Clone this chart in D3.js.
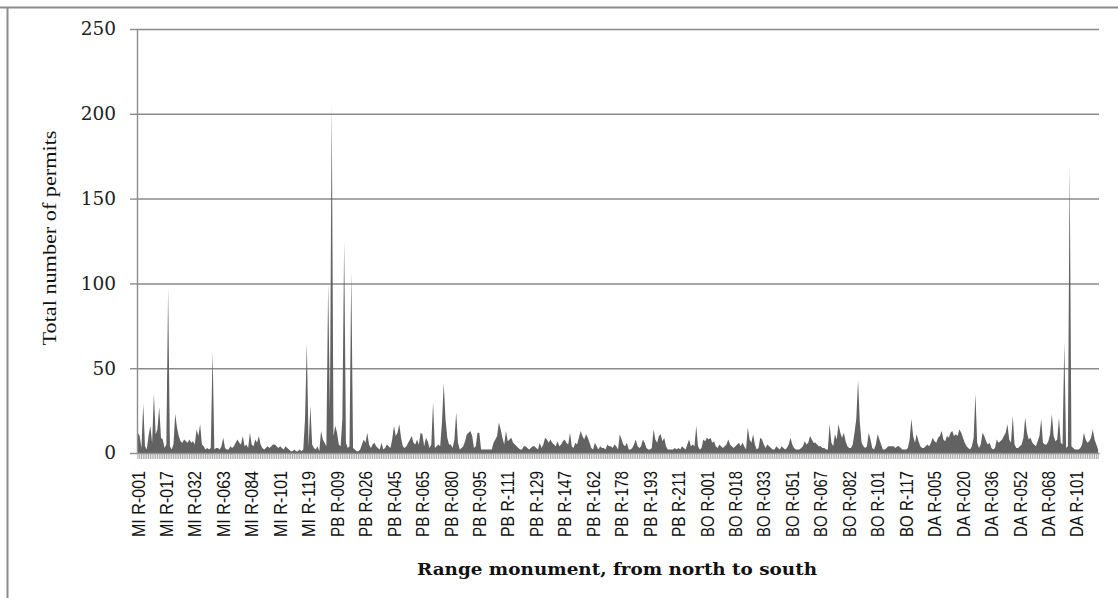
<!DOCTYPE html>
<html>
<head>
<meta charset="utf-8">
<script src="https://cdn.jsdelivr.net/npm/d3@7"></script>
<style>
  html, body { margin: 0; padding: 0; background: #fff; }
  svg { display: block; }
</style>
</head>
<body>
<script>
// Total permits per range monument, listed north to south, one value per monument.
const miPermits = [
  12,10,3,29,4,2,10,16,6,35,
  11,14,27,9,8,3,5,97,4,2,
  5,23,15,10,7,6,8,7,6,8,
  6,7,5,14,10,17,5,4,2,3,
  2,3,60,2,3,3,2,4,9,3,
  2,2,4,3,4,6,8,6,5,10,
  4,5,3,12,5,4,8,6,10,5,
  3,2,3,4,3,4,5,5,4,3,
  4,3,2,4,3,2,1,1,2,1,
  1,2,1,2,20,65,4,28,5,3,
  2,4,1,13
];
const pbPermits = [
  8,6,4,100,25,205,
  10,16,12,5,4,20,125,6,3,4,
  107,3,2,1,1,2,5,8,6,12,
  5,3,5,6,4,3,2,6,2,3,
  5,4,3,8,16,10,12,17,9,4,
  3,4,6,8,10,6,5,8,5,12,
  11,4,9,7,3,5,30,3,4,5,
  4,18,41,20,9,5,5,3,8,24,
  6,2,3,4,7,11,12,13,10,3,
  4,12,12,2,2,2,2,2,2,2,
  6,8,10,18,14,9,5,13,7,8,
  9,6,5,4,3,2,2,4,4,3,
  2,3,4,4,3,2,6,3,5,9,
  8,6,8,6,5,4,7,4,5,7,
  8,6,5,12,4,3,6,5,9,13,
  10,8,11,9,6,3,2,6,4,2,
  4,3,3,2,5,4,4,3,5,4,
  2,11,8,5,4,6,2,2,3,5,
  8,4,3,4,8,6,3,2,2,3,
  14,8,6,10,11,7,9,4,2,2,
  2,2,3,2,3,2,4,3,2,5,
  8,4,5,4,16,4,2,3,8,7
];
const boPermits = [
  9,8,9,6,7,4,3,5,4,3,
  4,5,8,5,4,3,4,5,6,4,
  6,4,2,15,8,6,11,5,2,3,
  9,8,5,3,5,4,3,2,2,4,
  3,2,4,3,2,3,5,9,5,3,
  2,2,2,3,4,7,5,6,10,8,
  6,6,5,4,4,3,3,2,2,17,
  6,4,11,8,17,12,9,12,7,4,
  3,3,5,12,20,43,18,6,4,3,
  4,12,8,3,2,5,11,8,5,2,
  2,3,4,4,4,4,3,4,4,3,
  2,2,2,3,8,20,10,6,11,7,
  4,3,3,4
];
const daPermits = [
  5,4,6,9,7,6,
  9,10,13,8,7,10,9,12,13,10,
  11,10,14,12,9,6,4,3,2,4,
  9,35,6,3,5,12,10,7,5,6,
  3,2,3,8,6,7,8,10,12,17,
  8,6,22,5,3,3,4,5,9,21,
  12,8,9,6,5,4,7,10,20,6,
  5,5,7,11,23,10,7,8,21,6,
  5,65,3,4,170,4,3,2,2,2,
  3,5,12,8,6,7,9,14,8,5,2
];

// Every 16th monument carries a label on the category axis.
const tickLabels = [
  "MI R-001","MI R-017","MI R-032","MI R-063","MI R-084","MI R-101","MI R-119",
  "PB R-009","PB R-026","PB R-045","PB R-065","PB R-080","PB R-095","PB R-111",
  "PB R-129","PB R-147","PB R-162","PB R-178","PB R-193","PB R-211",
  "BO R-001","BO R-018","BO R-033","BO R-051","BO R-067","BO R-082","BO R-101","BO R-117",
  "DA R-005","DA R-020","DA R-036","DA R-052","DA R-068","DA R-101"
];
const labelEvery = 16;
const yTicks = [0, 50, 100, 150, 200, 250];

const permits = [].concat(miPermits, pbPermits, boPermits, daPermits);

const W = 1118, H = 598;
const plot = { left: 137, right: 1099, top: 29, bottom: 453 };

const svg = d3.select("body").append("svg")
  .attr("width", W).attr("height", H);

svg.append("rect").attr("width", W).attr("height", H).attr("fill", "#fff");

// outer frame (top and left edges)
svg.append("line").attr("x1", 0).attr("x2", W).attr("y1", 7.5).attr("y2", 7.5)
  .attr("stroke", "#8c8c8c").attr("stroke-width", 2);
svg.append("line").attr("x1", 7.5).attr("x2", 7.5).attr("y1", 7).attr("y2", H)
  .attr("stroke", "#8c8c8c").attr("stroke-width", 2);

const x = d3.scaleBand()
  .domain(d3.range(permits.length))
  .range([plot.left, plot.right]);
const y = d3.scaleLinear().domain([0, 250]).range([plot.bottom, plot.top]);
const cx = i => x(i) + x.bandwidth() / 2;

// horizontal gridlines
const grid = svg.append("g")
  .attr("transform", `translate(${plot.left},0)`)
  .call(d3.axisLeft(y).tickValues(yTicks.slice(1))
    .tickSize(-(plot.right - plot.left)).tickFormat(""));
grid.select(".domain").remove();
grid.selectAll(".tick line").attr("stroke", "#8a8a8a").attr("stroke-width", 1.5);

// area of permits
svg.append("path")
  .datum(permits)
  .attr("fill", "#626262")
  .attr("d", d3.area()
    .x((d, i) => cx(i))
    .y0(y(0))
    .y1(d => y(d)));

// value axis
const yAxis = svg.append("g")
  .attr("transform", `translate(${plot.left},0)`)
  .call(d3.axisLeft(y).tickValues(yTicks).tickSize(7).tickPadding(14).tickSizeOuter(0));
yAxis.select(".domain").attr("stroke", "#8c8c8c").attr("stroke-width", 1.4);
yAxis.selectAll(".tick line").attr("stroke", "#8c8c8c").attr("stroke-width", 1.4);
yAxis.selectAll(".tick text")
  .attr("font-family", "'DejaVu Serif', serif")
  .attr("font-size", 18.5)
  .attr("fill", "#222");

// category axis: one tick per monument, labels every 16th
const xAxis = svg.append("g")
  .attr("transform", `translate(0,${plot.bottom})`)
  .call(d3.axisBottom(x)
    .tickValues(d3.range(permits.length))
    .tickSize(6)
    .tickSizeOuter(0)
    .tickFormat(i => i % labelEvery === 0 ? tickLabels[i / labelEvery] : ""));
xAxis.select(".domain").attr("stroke", "#8c8c8c").attr("stroke-width", 1.4);
xAxis.selectAll(".tick line").attr("stroke", "#9a9a9a").attr("stroke-width", 0.9);
xAxis.selectAll(".tick text")
  .filter(i => i % labelEvery !== 0).remove();
xAxis.selectAll(".tick text")
  .attr("transform", "rotate(-90)")
  .attr("text-anchor", "end")
  .attr("x", -18)
  .attr("y", 0)
  .attr("dy", "0.36em")
  .attr("font-family", "'Liberation Sans', Arial, sans-serif")
  .attr("font-size", 18.5)
  .attr("textLength", 66)
  .attr("lengthAdjust", "spacingAndGlyphs")
  .attr("fill", "#111");

// axis titles
svg.append("text")
  .attr("transform", `translate(56,${(plot.top + plot.bottom) / 2 - 3}) rotate(-90)`)
  .attr("text-anchor", "middle")
  .attr("font-family", "'Liberation Serif', 'Times New Roman', serif")
  .attr("font-size", 19.5)
  .attr("textLength", 215)
  .attr("lengthAdjust", "spacingAndGlyphs")
  .attr("fill", "#111")
  .text("Total number of permits");

svg.append("text")
  .attr("x", 617).attr("y", 575)
  .attr("text-anchor", "middle")
  .attr("font-family", "'DejaVu Serif', serif")
  .attr("font-weight", "bold")
  .attr("font-size", 17.5)
  .attr("textLength", 400)
  .attr("lengthAdjust", "spacingAndGlyphs")
  .attr("fill", "#111")
  .text("Range monument, from north to south");
</script>
</body>
</html>
